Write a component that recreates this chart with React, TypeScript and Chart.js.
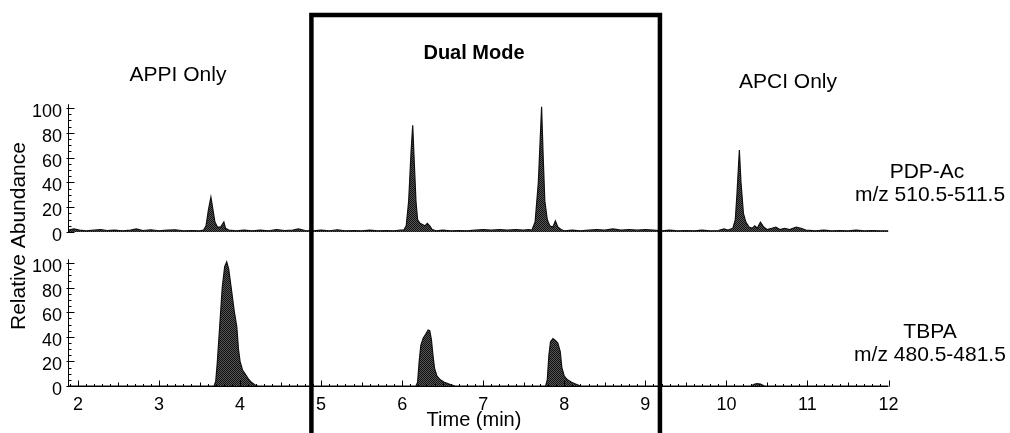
import React, { useEffect, useRef } from 'react';
import { Chart, registerables } from 'chart.js';

Chart.register(...registerables);

// PDP-Ac, m/z 510.5-511.5 (upper trace)
const TOP_TIME = [
  1.877, 1.95, 2.02, 2.1, 2.2, 2.28, 2.36, 2.45, 2.55, 2.65, 2.72, 2.8, 2.9, 3.0, 3.1, 3.2, 3.3, 3.4, 3.5,
  3.55, 3.58, 3.61, 3.64, 3.66, 3.69, 3.72, 3.76, 3.8, 3.82, 3.86,
  3.95, 4.05, 4.15, 4.25, 4.35, 4.45, 4.55, 4.65, 4.72, 4.8, 4.9, 5.0, 5.1, 5.2, 5.3, 5.4, 5.5, 5.6, 5.7, 5.8, 5.9, 5.98,
  6.02, 6.05, 6.08, 6.11, 6.13, 6.15, 6.17, 6.19, 6.22, 6.25, 6.28, 6.31, 6.34, 6.37, 6.42,
  6.5, 6.6, 6.7, 6.8, 6.9, 7.0, 7.1, 7.2, 7.3, 7.4, 7.5, 7.56,
  7.6, 7.64, 7.68, 7.72, 7.74, 7.76, 7.79, 7.82, 7.86, 7.89, 7.92, 7.96, 8.0,
  8.1, 8.2, 8.3, 8.4, 8.5, 8.6, 8.7, 8.8, 8.9, 9.0, 9.1, 9.2, 9.3, 9.4, 9.5, 9.6, 9.7, 9.8, 9.9, 9.97,
  10.02, 10.08, 10.11, 10.13, 10.16, 10.18, 10.21, 10.24, 10.28, 10.32, 10.35, 10.38, 10.42, 10.46, 10.5,
  10.56, 10.61, 10.66, 10.72, 10.78, 10.86, 10.92, 10.98,
  11.1, 11.2, 11.3, 11.4, 11.5, 11.6, 11.7, 11.8, 11.9, 12.0,
];
const TOP_ABUND = [
  1.5, 2.5, 1.5, 1, 1.5, 2, 1.2, 1.5, 1, 1.5, 2.5, 1.2, 1.8, 1, 1.5, 1.8, 1, 1.2, 1,
  1.5, 5, 18, 28, 20, 8, 4, 4, 8, 3, 1.5,
  1, 1.5, 1, 1.5, 1, 2, 1.2, 1.5, 2.5, 1.2, 1, 1.5, 1, 1.8, 1, 1.2, 1, 1.5, 1, 1.2, 1, 1.5,
  1.5, 5, 25, 65, 86, 55, 25, 10, 7, 6, 5, 7, 5, 2, 1,
  1.5, 1, 1.2, 1, 1.5, 2, 1.5, 2, 1.5, 2, 1.5, 2,
  1.5, 8, 40, 101, 60, 25, 10, 5, 4, 9, 4, 2, 1,
  1.5, 1, 1.5, 2, 1.5, 2.5, 1.5, 2, 1.5, 2, 1.5, 1, 1.5, 1, 1.2, 1, 1.5, 1, 1.2, 2.5,
  1.5, 3, 10, 30, 66, 40, 15, 8, 4, 3, 5, 3, 8, 4, 2,
  3, 4, 2, 3, 2, 4, 3, 1.5,
  1, 1.5, 1, 1.2, 1, 1.5, 1, 1.2, 1, 1,
];

// TBPA, m/z 480.5-481.5 (lower trace)
const BOT_TIME = [
  1.877, 3.68, 3.7, 3.72, 3.75, 3.78, 3.81, 3.835, 3.86, 3.89, 3.93, 3.96, 3.98, 4.0, 4.03, 4.06, 4.1, 4.14, 4.18, 4.22,
  6.17, 6.19, 6.21, 6.23, 6.26, 6.29, 6.32, 6.34, 6.36, 6.38, 6.4, 6.43, 6.47, 6.52, 6.58, 6.65,
  7.77, 7.79, 7.81, 7.83, 7.86, 7.89, 7.92, 7.95, 7.97, 8.0, 8.04, 8.09, 8.14, 8.2,
  10.3, 10.35, 10.38, 10.42, 10.47, 12.0,
];
const BOT_ABUND = [
  0, 0, 4, 20, 50, 80, 97, 101, 95, 80, 60, 48, 30, 20, 13, 10, 6, 3, 1, 0,
  0, 3, 20, 33, 39, 42, 45.5, 45, 38, 25, 14, 8, 5, 3, 1.5, 0,
  0, 5, 25, 36, 38.5, 37, 35, 28, 15, 8, 5, 3, 1.5, 0,
  0, 1.5, 2, 1.5, 0, 0,
];

const X_TICKS = [2, 3, 4, 5, 6, 7, 8, 9, 10, 11, 12];
const Y_TICKS = [0, 20, 40, 60, 80, 100];
const REGION_LABELS = ['APPI Only', 'Dual Mode', 'APCI Only'];
const TOP_LABEL = ['PDP-Ac', 'm/z 510.5-511.5'];
const BOT_LABEL = ['TBPA', 'm/z 480.5-481.5'];
const X_TITLE = 'Time (min)';
const Y_TITLE = 'Relative Abundance';
const DUAL_START = 4.88;
const DUAL_END = 9.18;

const FONT = '"Liberation Sans", Arial, Helvetica, sans-serif';

function makePattern(ctx: CanvasRenderingContext2D) {
  const c = document.createElement('canvas');
  c.width = 2;
  c.height = 2;
  const g = c.getContext('2d')!;
  g.fillStyle = '#555555';
  g.fillRect(0, 0, 2, 2);
  g.fillStyle = '#111111';
  g.fillRect(0, 0, 1, 1);
  g.fillRect(1, 1, 1, 1);
  return ctx.createPattern(c, 'repeat');
}

const decorPlugin = {
  id: 'decor',
  afterDraw(chart: any) {
    const { ctx, chartArea, scales } = chart;
    const xs = scales.x;
    const yt = scales.yTop;
    const yb = scales.yBot;
    ctx.save();
    ctx.strokeStyle = '#000';
    ctx.lineWidth = 1;
    const x0 = Math.round(chartArea.left) + 0.5;
    for (const ys of [yt, yb]) {
      ctx.beginPath();
      ctx.moveTo(x0, ys.getPixelForValue(0));
      ctx.lineTo(x0, ys.getPixelForValue(103));
      for (let v = 0; v <= 100; v += 5) {
        const y = Math.round(ys.getPixelForValue(v)) + 0.5;
        const len = v % 20 === 0 ? 6 : 3;
        ctx.moveTo(x0 - (v % 20 === 0 ? 2 : 0), y);
        ctx.lineTo(x0 + len, y);
      }
      ctx.stroke();
    }
    // bottom time axis
    const yAx = Math.round(yb.getPixelForValue(0)) + 0.5;
    ctx.beginPath();
    ctx.moveTo(chartArea.left, yAx);
    ctx.lineTo(chartArea.right, yAx);
    for (let i = 19; i <= 120; i++) {
      const x = Math.round(xs.getPixelForValue(i / 10)) + 0.5;
      const len = i % 10 === 0 ? 6 : i % 5 === 0 ? 4 : 2.5;
      ctx.moveTo(x, yAx);
      ctx.lineTo(x, yAx - len);
    }
    ctx.stroke();

    // Dual mode box
    ctx.lineWidth = 4.5;
    const bl = xs.getPixelForValue(DUAL_START);
    const br = xs.getPixelForValue(DUAL_END);
    const bt = yt.getPixelForValue(175);
    ctx.beginPath();
    ctx.moveTo(bl, chart.height + 5);
    ctx.lineTo(bl, bt);
    ctx.lineTo(br, bt);
    ctx.lineTo(br, chart.height + 5);
    ctx.stroke();

    // texts
    ctx.fillStyle = '#000';
    ctx.textAlign = 'center';
    ctx.textBaseline = 'middle';
    ctx.font = `21px ${FONT}`;
    ctx.fillText(REGION_LABELS[0], 178, 75);
    ctx.fillText(REGION_LABELS[2], 788, 82);
    ctx.font = `bold 20px ${FONT}`;
    ctx.fillText(REGION_LABELS[1], 474, 53);
    ctx.font = `21px ${FONT}`;
    ctx.fillText(TOP_LABEL[0], 927, 172);
    ctx.fillText(TOP_LABEL[1], 930, 195);
    ctx.fillText(BOT_LABEL[0], 930, 332);
    ctx.fillText(BOT_LABEL[1], 930, 355);
    ctx.font = `20px ${FONT}`;
    ctx.fillText(X_TITLE, 474, 420);
    ctx.font = `21px ${FONT}`;
    ctx.save();
    ctx.translate(19, 236);
    ctx.rotate(-Math.PI / 2);
    ctx.fillText(Y_TITLE, 0, 0);
    ctx.restore();
    ctx.restore();
  },
};

export default function App() {
  const ref = useRef<HTMLCanvasElement>(null);
  useEffect(() => {
    const canvas = ref.current!;
    const ctx = canvas.getContext('2d')!;
    const pattern = makePattern(ctx);
    const yCommon = (min: number, max: number, weight: number) => ({
      type: 'linear' as const,
      position: 'left' as const,
      stack: 'panels',
      stackWeight: weight,
      min,
      max,
      grid: { display: false, drawTicks: false },
      border: { display: false },
      afterBuildTicks: (s: any) => {
        s.ticks = Y_TICKS.map((v) => ({ value: v }));
      },
      afterFit: (s: any) => {
        s.width = 68;
      },
      ticks: {
        font: { family: FONT, size: 18 },
        color: '#000',
        padding: 6,
        labelOffset: 4,
        autoSkip: false,
      },
    });
    const chart = new Chart(ctx, {
      type: 'line',
      data: {
        datasets: [
          {
            label: 'PDP-Ac',
            data: TOP_TIME.map((t, i) => ({ x: t, y: TOP_ABUND[i] })),
            yAxisID: 'yTop',
            borderColor: '#111',
            borderWidth: 1.2,
            backgroundColor: pattern as any,
            fill: 'origin',
            pointRadius: 0,
            tension: 0,
          },
          {
            label: 'TBPA',
            data: BOT_TIME.map((t, i) => ({ x: t, y: BOT_ABUND[i] })),
            yAxisID: 'yBot',
            borderColor: '#111',
            borderWidth: 1.2,
            backgroundColor: pattern as any,
            fill: 'origin',
            pointRadius: 0,
            tension: 0,
          },
        ],
      },
      options: {
        animation: false,
        responsive: false,
        devicePixelRatio: 1,
        layout: { padding: { left: 0, right: 121.5, top: 102, bottom: 0 } },
        plugins: { legend: { display: false }, tooltip: { enabled: false } },
        scales: {
          x: {
            type: 'linear',
            min: 1.877,
            max: 12,
            grid: { display: false, drawTicks: false },
            border: { display: false },
            afterBuildTicks: (s: any) => {
              s.ticks = X_TICKS.map((v) => ({ value: v }));
            },
            afterFit: (s: any) => {
              s.height = 47;
            },
            ticks: {
              font: { family: FONT, size: 18 },
              color: '#000',
              padding: 8,
              maxRotation: 0,
              autoSkip: false,
            },
          },
          yBot: yCommon(0, 105.7, 130),
          yTop: yCommon(-19.35, 104.8, 154),
        },
      },
      plugins: [decorPlugin],
    });
    return () => chart.destroy();
  }, []);
  return (
    <div style={{ position: 'absolute', left: 0, top: 0, width: 1010, height: 433 }}>
      <canvas ref={ref} width={1010} height={433} style={{ display: 'block' }} />
    </div>
  );
}
